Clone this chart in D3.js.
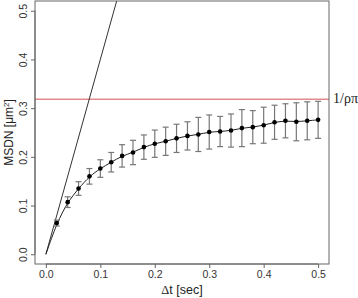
<!DOCTYPE html>
<html>
<head>
<meta charset="utf-8">
<script src="https://cdn.jsdelivr.net/npm/d3@7"></script>
<style>
body { margin:0; background:#fff; }
svg { display:block; }
.tick text { font-family: "Liberation Sans", Arial, sans-serif; font-size:10.5px; fill:#333; }
</style>
</head>
<body>
<svg id="myGraph" width="358" height="298"></svg>
<script>
// data
var dt = [0.02,0.04,0.06,0.08,0.10,0.12,0.14,0.16,0.18,0.20,0.22,0.24,0.26,
          0.28,0.30,0.32,0.34,0.36,0.38,0.40,0.42,0.44,0.46,0.48,0.50];
var msdn = [0.064,0.107,0.135,0.160,0.176,0.189,0.202,0.209,0.220,0.227,0.232,0.238,0.243,
            0.246,0.251,0.252,0.254,0.259,0.261,0.265,0.271,0.274,0.272,0.274,0.276];
var errs = [0.006,0.011,0.014,0.016,0.018,0.020,0.023,0.025,0.025,0.028,0.029,0.029,0.029,
            0.035,0.035,0.031,0.034,0.038,0.034,0.037,0.035,0.035,0.039,0.039,0.038];
var slopeT = [0, 0.5];      // initial slope line
var slopeY = [0, 2.0];
var limitY = 0.3183;        // 1/(rho*pi)
var xTicks = [0.0,0.1,0.2,0.3,0.4,0.5];
var yTicks = [0.0,0.1,0.2,0.3,0.4,0.5];

var pLeft = 35, pRight = 329, pTop = 1, pBottom = 264;
var svg = d3.select("#myGraph");

var x = d3.scaleLinear().domain([-0.02, 0.52]).range([pLeft, pRight]);
var y = d3.scaleLinear().domain([-0.02, 0.52]).range([pBottom, pTop]);

svg.append("clipPath").attr("id","clip")
  .append("rect").attr("x",pLeft).attr("y",pTop).attr("width",pRight-pLeft).attr("height",pBottom-pTop);

var plot = svg.append("g").attr("clip-path","url(#clip)");

// red limit line
plot.append("line")
  .attr("x1",pLeft).attr("x2",pRight)
  .attr("y1",y(limitY)).attr("y2",y(limitY))
  .attr("stroke","#e58a8a").attr("stroke-width",1.3);

// straight slope line
var slopePts = slopeT.map(function(t,i){ return [t, slopeY[i]]; });
plot.append("path")
  .attr("d", d3.line().x(function(d){return x(d[0]);}).y(function(d){return y(d[1]);})(slopePts))
  .attr("fill","none").attr("stroke","#333").attr("stroke-width",1);

// smooth curve through origin and points
var pts = [[0,0]].concat(dt.map(function(t,i){ return [t, msdn[i]]; }));
plot.append("path")
  .attr("d", d3.line().curve(d3.curveBasis)
     .x(function(d){return x(d[0]);}).y(function(d){return y(d[1]);})(pts))
  .attr("fill","none").attr("stroke","#222").attr("stroke-width",1);

// error bars
var eb = plot.selectAll(".eb").data(dt).enter().append("g").attr("class","eb")
  .attr("stroke","#777").attr("stroke-width",1.2);
eb.append("line")
  .attr("x1",function(d){return x(d);}).attr("x2",function(d){return x(d);})
  .attr("y1",function(d,i){return y(msdn[i]+errs[i]);})
  .attr("y2",function(d,i){return y(msdn[i]-errs[i]);});
eb.append("line")
  .attr("x1",function(d){return x(d)-3;}).attr("x2",function(d){return x(d)+3;})
  .attr("y1",function(d,i){return y(msdn[i]+errs[i]);})
  .attr("y2",function(d,i){return y(msdn[i]+errs[i]);});
eb.append("line")
  .attr("x1",function(d){return x(d)-3;}).attr("x2",function(d){return x(d)+3;})
  .attr("y1",function(d,i){return y(msdn[i]-errs[i]);})
  .attr("y2",function(d,i){return y(msdn[i]-errs[i]);});

// points
plot.selectAll(".pt").data(dt).enter().append("circle")
  .attr("cx",function(d){return x(d);})
  .attr("cy",function(d,i){return y(msdn[i]);})
  .attr("r",2.3).attr("fill","#000");

// box
svg.append("rect").attr("x",pLeft).attr("y",pTop).attr("width",pRight-pLeft).attr("height",pBottom-pTop)
  .attr("fill","none").attr("stroke","#666").attr("stroke-width",1);

// axes
var xAxis = d3.axisBottom(x).tickValues(xTicks).tickFormat(d3.format(".1f")).tickSize(4).tickPadding(3);
var gx = svg.append("g").attr("transform","translate(0,"+pBottom+")").call(xAxis);
gx.select(".domain").attr("stroke","#666").attr("d","M"+x(0)+",0H"+x(0.5));
gx.selectAll(".tick line").attr("stroke","#666");

var yAxis = d3.axisLeft(y).tickValues(yTicks).tickFormat(d3.format(".1f")).tickSize(4).tickPadding(3);
var gy = svg.append("g").attr("transform","translate("+pLeft+",0)").call(yAxis);
gy.select(".domain").attr("stroke","#666").attr("d","M0,"+y(0)+"V"+y(0.5));
gy.selectAll(".tick line").attr("stroke","#666");
gy.selectAll(".tick text")
  .attr("x",null).attr("dy",null)
  .attr("text-anchor","middle")
  .attr("transform","translate(-8.5,0) rotate(-90)");

// labels
svg.append("text")
  .attr("x",(pLeft+pRight)/2).attr("y",294)
  .attr("text-anchor","middle")
  .style("font-family","Liberation Sans, Arial, sans-serif").style("font-size","12.5px").attr("fill","#222")
  .html('<tspan style="font-family:Liberation Serif, serif">Δ</tspan>t [sec]');

svg.append("text")
  .attr("transform","translate(12.5,"+((pTop+pBottom)/2)+") rotate(-90)")
  .attr("text-anchor","middle")
  .style("font-family","Liberation Sans, Arial, sans-serif").style("font-size","12px").attr("fill","#222")
  .html('MSDN [μm<tspan dy="-4" font-size="8px">2</tspan><tspan dy="4">]</tspan>');

svg.append("text")
  .attr("x",333).attr("y",y(limitY)+3.5)
  .style("font-family","'Liberation Serif', serif").style("font-size","14px").attr("fill","#222")
  .text("1/ρπ");
</script>
</body>
</html>
